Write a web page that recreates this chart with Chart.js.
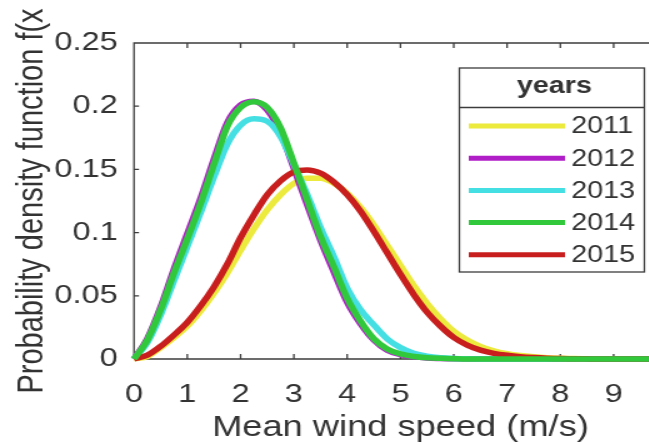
<!DOCTYPE html>
<html lang="en">
<head>
    <meta charset="UTF-8">
    <title>Wind speed PDF</title>
    <script src="https://cdn.jsdelivr.net/npm/chart.js"></script>
    <style>
        html, body { margin: 0; padding: 0; background: #fff; overflow: hidden; }
        /* the source picture is stretched sideways, so the canvas is too */
        #pdfChart { position: absolute; left: 0; top: 0; width: 700px; height: 443px; }
    </style>
</head>
<body>
<canvas id="pdfChart" width="560" height="443" style="width:700px;height:443px"></canvas>

<script>
    // wind speed samples (m/s)
    const speeds = [0, 0.25, 0.5, 0.75, 1, 1.25, 1.5, 1.75, 2, 2.25, 2.5, 2.75, 3, 3.25, 3.5, 3.75, 4, 4.25, 4.5, 4.75,
        5, 5.25, 5.5, 5.75, 6, 6.25, 6.5, 6.75, 7, 7.25, 7.5, 7.75, 8, 8.25, 8.5, 8.75, 9, 9.25, 9.5, 9.75, 10];

    const pdf2011 = [0, 0.002, 0.009, 0.017, 0.026, 0.038, 0.052, 0.068, 0.086, 0.103, 0.118, 0.130, 0.139, 0.143, 0.143, 0.139,
        0.131, 0.120, 0.106, 0.090, 0.074, 0.058, 0.044, 0.032, 0.022, 0.015, 0.010, 0.0065, 0.0042, 0.0027, 0.0017, 0.001,
        0.0006, 0.0003, 0.0002, 0.0001, 0, 0, 0, 0, 0];
    const pdf2012 = [0, 0.016, 0.041, 0.071, 0.099, 0.127, 0.158, 0.187, 0.201, 0.204, 0.197, 0.179, 0.151, 0.122, 0.094, 0.069,
        0.045, 0.028, 0.015, 0.007, 0.0035, 0.0017, 0.0008, 0.0004, 0.0001, 0, 0, 0, 0, 0, 0, 0,
        0, 0, 0, 0, 0, 0, 0, 0, 0];
    const pdf2013 = [0, 0.013, 0.035, 0.062, 0.089, 0.116, 0.144, 0.170, 0.185, 0.190, 0.188, 0.176, 0.154, 0.130, 0.104, 0.081,
        0.056, 0.039, 0.027, 0.016, 0.009, 0.0045, 0.0022, 0.001, 0.0004, 0.0001, 0, 0, 0, 0, 0, 0,
        0, 0, 0, 0, 0, 0, 0, 0, 0];
    const pdf2014 = [0, 0.015, 0.039, 0.068, 0.095, 0.123, 0.154, 0.184, 0.199, 0.2035, 0.199, 0.183, 0.155, 0.126, 0.097, 0.073,
        0.048, 0.030, 0.016, 0.008, 0.004, 0.002, 0.001, 0.0005, 0.0002, 0, 0, 0, 0, 0, 0, 0,
        0, 0, 0, 0, 0, 0, 0, 0, 0];
    const pdf2015 = [0, 0.003, 0.010, 0.019, 0.029, 0.042, 0.057, 0.075, 0.096, 0.114, 0.130, 0.141, 0.148, 0.1495, 0.147, 0.140,
        0.130, 0.117, 0.101, 0.084, 0.067, 0.051, 0.037, 0.026, 0.017, 0.011, 0.007, 0.0045, 0.0029, 0.0018, 0.0011, 0.0006,
        0.0003, 0.0002, 0.0001, 0, 0, 0, 0, 0, 0];

    const years = ['2011', '2012', '2013', '2014', '2015'];
    const xTicks = [0, 1, 2, 3, 4, 5, 6, 7, 8, 9, 10];
    const yTicks = [0, 0.05, 0.1, 0.15, 0.2, 0.25];

    const lineColors = ['#ecea3c', '#b01ec8', '#44dfe2', '#32c83c', '#c81e1e'];
    const drawOrder = [4, 3, 2, 0, 1]; // green on top, then red
    const font = "'Liberation Sans', Arial, sans-serif";
    const textColor = '#333333';

    const series = [pdf2011, pdf2012, pdf2013, pdf2014, pdf2015];

    // box with inward ticks, matlab style
    const framePlugin = {
        id: 'frame',
        beforeDatasetsDraw(chart) {
            const {ctx, chartArea: a, scales: {x, y}} = chart;
            ctx.save();
            ctx.strokeStyle = '#3c3c3c';
            ctx.lineWidth = 1.3;
            ctx.beginPath();
            ctx.moveTo(a.left, a.bottom);
            ctx.lineTo(a.left, a.top);
            ctx.lineTo(a.right, a.top);
            ctx.lineTo(a.right, a.bottom);
            ctx.lineTo(a.left, a.bottom);
            x.ticks.forEach(t => {
                const px = x.getPixelForValue(t.value);
                ctx.moveTo(px, a.bottom); ctx.lineTo(px, a.bottom - 5);
                ctx.moveTo(px, a.top); ctx.lineTo(px, a.top + 5);
            });
            y.ticks.forEach(t => {
                const py = y.getPixelForValue(t.value);
                ctx.moveTo(a.left, py); ctx.lineTo(a.left + 4, py);
                ctx.moveTo(a.right, py); ctx.lineTo(a.right - 4, py);
            });
            ctx.stroke();
            ctx.restore();
        }
    };

    // legend box with a title row
    const legendPlugin = {
        id: 'boxLegend',
        afterDatasetsDraw(chart) {
            const ctx = chart.ctx;
            const left = 367.5, top = 68, w = 148, h = 204, sep = 107.5;
            ctx.save();
            ctx.fillStyle = '#fff';
            ctx.fillRect(left, top, w, h);
            ctx.strokeStyle = '#3c3c3c';
            ctx.lineWidth = 1.3;
            ctx.strokeRect(left, top, w, h);
            ctx.beginPath();
            ctx.moveTo(left, sep); ctx.lineTo(left + w, sep);
            ctx.stroke();

            ctx.fillStyle = textColor;
            ctx.textBaseline = 'middle';
            ctx.textAlign = 'center';
            ctx.font = 'bold 23px ' + font;
            ctx.fillText('years', left + w / 2 + 2, 87);

            ctx.textAlign = 'left';
            ctx.font = '23px ' + font;
            chart.data.datasets.forEach((ds, i) => {
                const yy = 126 + i * 32.2;
                ctx.strokeStyle = ds.borderColor;
                ctx.lineWidth = 5;
                ctx.beginPath();
                ctx.moveTo(375, yy); ctx.lineTo(452, yy);
                ctx.stroke();
                ctx.fillStyle = textColor;
                ctx.fillText(ds.label, 457, yy + 1);
            });
            ctx.restore();
        }
    };

    new Chart(document.getElementById('pdfChart'), {
        type: 'line',
        data: {
            datasets: years.map((yr, i) => ({
                label: yr,
                data: speeds.map((s, j) => ({x: s, y: series[i][j]})),
                borderColor: lineColors[i],
                borderWidth: 5.5,
                pointRadius: 0,
                fill: false,
                cubicInterpolationMode: 'monotone',
                clip: false,
                order: drawOrder[i]
            }))
        },
        options: {
            responsive: false,
            animation: false,
            layout: { padding: { top: 43, right: 18.4, left: 0, bottom: 0 } },
            plugins: { legend: { display: false }, tooltip: { enabled: false } },
            scales: {
                x: {
                    type: 'linear',
                    min: 0,
                    max: 10,
                    grid: { display: false },
                    border: { display: false },
                    afterBuildTicks: scale => { scale.ticks = xTicks.map(v => ({value: v})); },
                    afterFit: scale => { scale.height = 84; },
                    ticks: {
                        padding: 12,
                        color: textColor,
                        font: { family: font, size: 26 },
                        maxRotation: 0
                    },
                    title: {
                        display: true,
                        text: 'Mean wind speed (m/s)',
                        color: textColor,
                        font: { family: font, size: 29, lineHeight: 1 },
                        padding: { top: 0, bottom: 1 }
                    }
                },
                y: {
                    min: 0,
                    max: 0.25,
                    grid: { display: false },
                    border: { display: false },
                    afterBuildTicks: scale => { scale.ticks = yTicks.map(v => ({value: v})); },
                    afterFit: scale => { scale.width = 107.2; },
                    ticks: {
                        padding: 5,
                        color: textColor,
                        font: { family: font, size: 26 },
                        callback: v => String(+v.toFixed(2))
                    },
                    title: {
                        display: true,
                        text: 'Probability density function f(x',
                        color: textColor,
                        font: { family: font, size: 29 },
                        padding: { top: 9, bottom: 0 }
                    }
                }
            }
        },
        plugins: [framePlugin, legendPlugin]
    });
</script>
</body>
</html>
